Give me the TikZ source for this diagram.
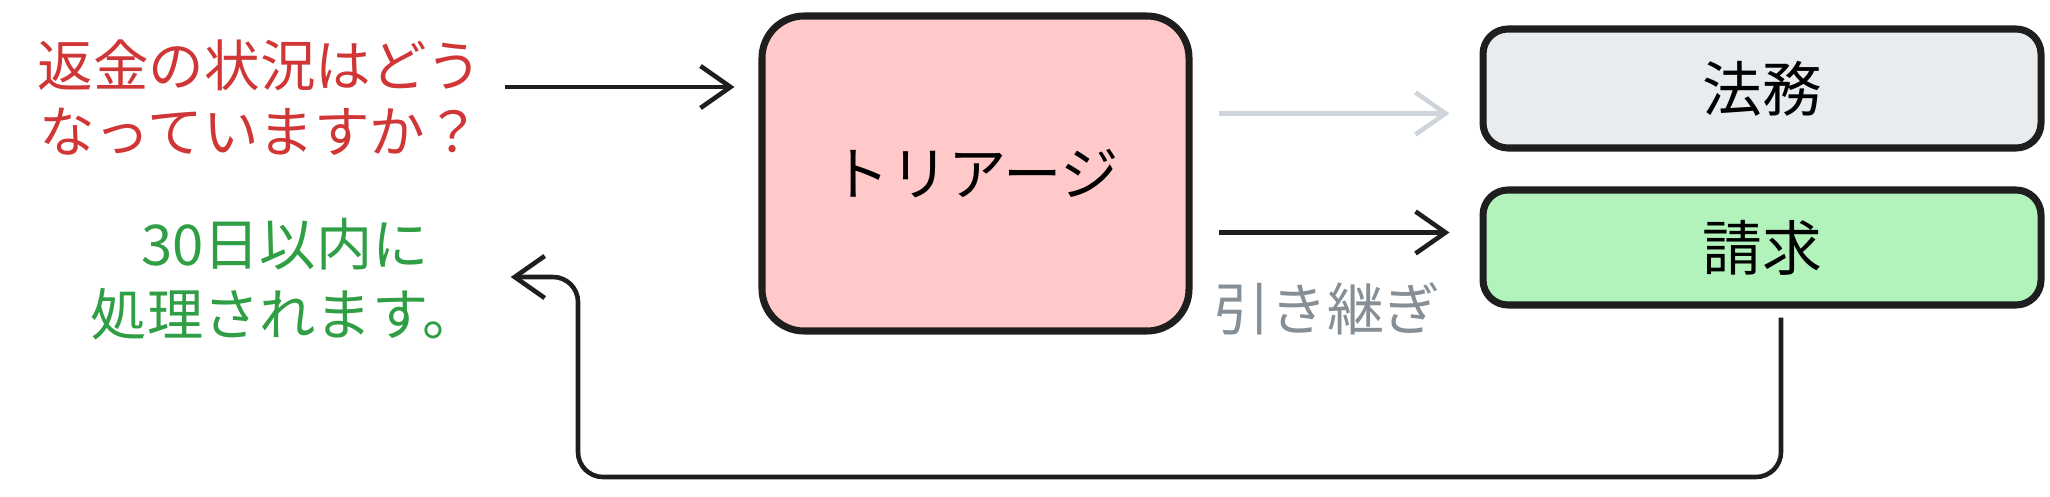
\documentclass[tikz,border=0pt]{standalone}
\usepackage{fontspec}
\setmainfont{Noto Sans CJK JP}
\usetikzlibrary{arrows.meta}
\definecolor{askred}{HTML}{D03636}
\definecolor{replygreen}{HTML}{2F9E44}
\definecolor{handgrey}{HTML}{868E96}
\definecolor{arrowgrey}{HTML}{CED4DA}
\definecolor{triagepink}{HTML}{FFC9C9}
\definecolor{legalgrey}{HTML}{E9ECEF}
\definecolor{billgreen}{HTML}{B2F2BB}
\definecolor{ink}{HTML}{1E1E1E}
\begin{document}
\begin{tikzpicture}
          [every node/.style={inner sep=0pt},
           box/.style={draw=ink, line width=2pt, rounded corners=0.25cm, minimum width=5.58cm},
           flow/.style={draw=ink, line width=1.3pt, -{Straight Barb[length=0.3cm, width=0.42cm]}}]
        \useasboundingbox (0,0) rectangle (20.5,4.96);

        \node[box, fill=triagepink, rounded corners=0.42cm, minimum width=4.27cm, minimum height=3.15cm, font=\fontsize{16.6}{16.6}\selectfont] (triage) at (9.755,3.225) {トリアージ};
        \node[box, fill=legalgrey, minimum height=1.19cm, font=\fontsize{17}{17}\selectfont] (legal) at (17.62,4.075) {法務};
        \node[box, fill=billgreen, minimum height=1.15cm, font=\fontsize{17}{17}\selectfont] (billing) at (17.62,2.485) {請求};

        \node[text=askred, align=center, font=\fontsize{15.8}{18.7}\selectfont] (ask) at (2.6,3.98) {返金の状況はどう\\なっていますか？};
        \node[text=replygreen, align=center, font=\fontsize{16}{19.9}\selectfont] (reply) at (2.85,2.17) {30日以内に\\処理されます。};
        \node[text=handgrey, font=\fontsize{16.2}{16.2}\selectfont] (handoff) at (13.27,1.87) {引き継ぎ};

        \draw[flow, shorten <=0.22cm, shorten >=0.24cm] ([yshift=0.11cm]ask.east) -- ([yshift=0.11cm]ask.east -| triage.west);

        \foreach \to/\dy/\col in {legal/0.6/arrowgrey, billing/-0.59/ink}
          \draw[flow, draw=\col, shorten <=0.26cm, shorten >=0.3cm] ([yshift=\dy cm]triage.east) -- ([yshift=\dy cm]triage.east -| \to.west);

        \coordinate (loopr) at (17.81,0.19);
        \coordinate (loopl) at (5.78,0.19);
        \coordinate (loopt) at (5.78,2.19);
        \draw[flow, rounded corners=0.25cm] ([xshift=0.19cm, yshift=-0.09cm]billing.south) -- (loopr) -- (loopl) -- (loopt) -- ([xshift=0.31cm]reply.east |- loopt);
      \end{tikzpicture}
\end{document}
